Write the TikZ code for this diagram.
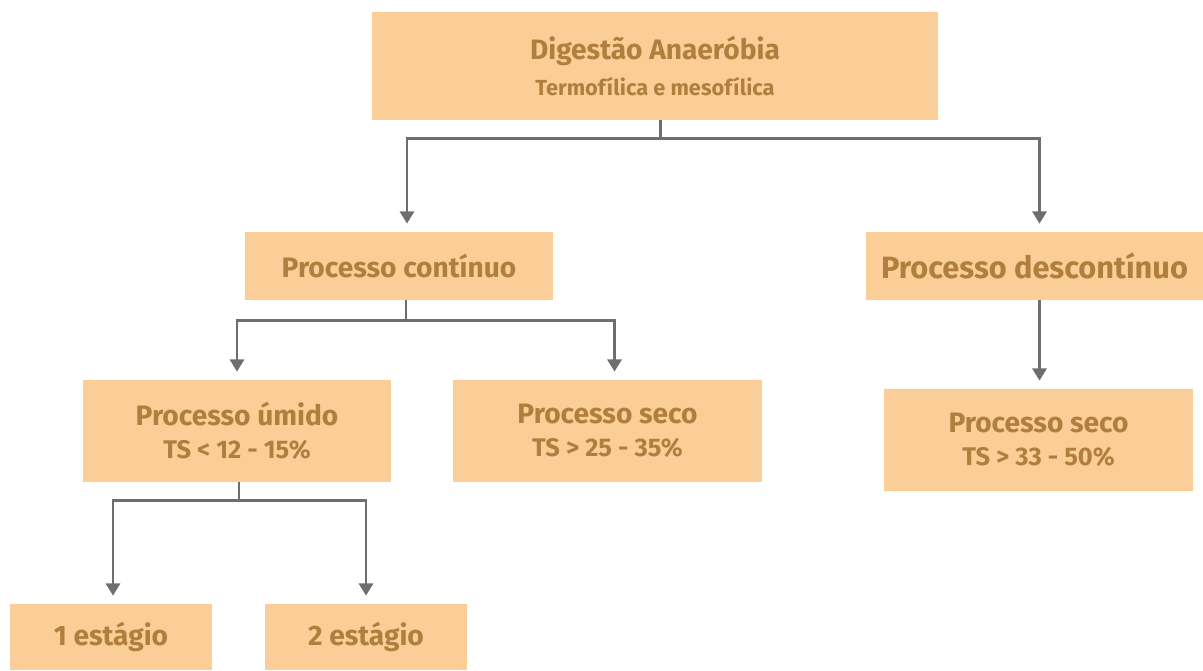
\documentclass[tikz,border=0pt]{standalone}
\usepackage{fontspec}
\setmainfont{Fira Sans}
\usepackage{tikz}
\usetikzlibrary{positioning,calc,arrows.meta}
\definecolor{boxfill}{HTML}{FBCE98}
\definecolor{boxtext}{HTML}{B07F3E}
\definecolor{linegray}{HTML}{6E6E6E}
\newcommand{\tsline}[1]{{\fontsize{14.5}{17}\selectfont #1}}

\tikzset{
  stage/.style={fill=boxfill, text=boxtext, inner sep=0pt, align=center,
    font=\bfseries\fontsize{16}{19}\selectfont},
  link/.style={draw=linegray, line width=1.7pt},
  arrowlink/.style={link, -{Triangle[length=7pt, width=8pt]}, shorten >=0.16cm}
}

\begin{document}
\begin{tikzpicture}[x=0.02cm, y=-0.02cm]
    \useasboundingbox (0,0) rectangle (1203,670);
    % boxes
    \node[stage, minimum width=11.32cm, minimum height=2.16cm] (digest) at (655,66)
      {Digestão Anaeróbia\\[1pt]{\fontsize{12.4}{14}\selectfont Termofílica e mesofílica}};
    \node[stage, minimum width=6.16cm, minimum height=1.36cm] (cont) at (399,266) {Processo contínuo};
    \node[stage, minimum width=6.74cm, minimum height=1.36cm, font=\bfseries\fontsize{17.5}{20}\selectfont] (desc) at (1034.5,266) {Processo descontínuo};
    \node[stage, minimum width=6.16cm, minimum height=2.04cm] (umido) at (237,431) {Processo úmido\\\tsline{TS < 12 - 15\%}};
    \node[stage, minimum width=6.18cm, minimum height=2.04cm] (secoA) at (607.5,431) {Processo seco\\\tsline{TS > 25 - 35\%}};
    \node[stage, minimum width=6.18cm, minimum height=2.04cm] (secoB) at (1038.5,440) {Processo seco\\\tsline{TS > 33 - 50\%}};
    \node[stage, minimum width=4.04cm, minimum height=1.32cm] (est1) at (111,637) {1 estágio};
    \node[stage, minimum width=4.04cm, minimum height=1.32cm] (est2) at (366,637) {2 estágio};
    % connectors
    \draw[link] ($(digest.south)+(5,0)$) -- ++(0,18) coordinate (jDigest);
    \draw[arrowlink] (jDigest) -| ($(cont.north)+(8,0)$);
    \draw[arrowlink] (jDigest) -| ($(desc.north)+(5,0)$);
    \draw[link] ($(cont.south)+(7,0)$) -- ++(0,20) coordinate (jCont);
    \draw[arrowlink] (jCont) -| (umido.north);
    \draw[arrowlink] (jCont) -| ($(secoA.north)+(7,0)$);
    \draw[arrowlink] ($(desc.south)+(5,0)$) -- ($(desc.south |- secoB.north)+(5,0)$);
    \draw[link] ($(umido.south)+(2,0)$) -- ++(0,18) coordinate (jUmido);
    \draw[arrowlink] (jUmido) -| ($(est1.north)+(2,0)$);
    \draw[arrowlink] (jUmido) -| (est2.north);
\end{tikzpicture}
\end{document}
